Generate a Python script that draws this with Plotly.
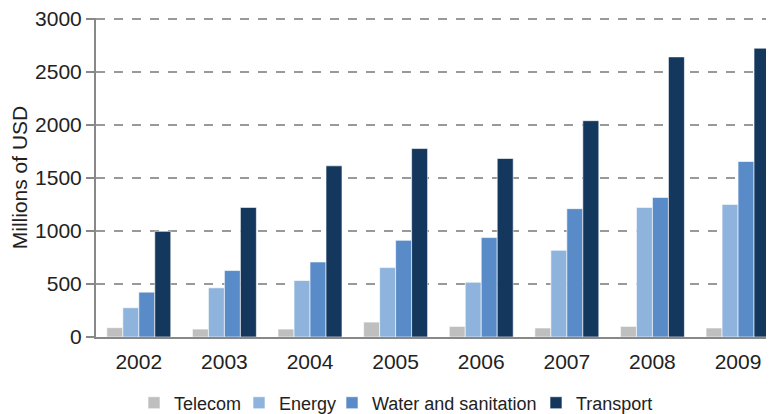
import plotly.graph_objects as go

years = ["2002", "2003", "2004", "2005", "2006", "2007", "2008", "2009"]
telecom = [88, 75, 75, 141, 100, 85, 100, 85]
energy = [276, 464, 533, 655, 517, 818, 1223, 1251]
water = [423, 627, 708, 912, 938, 1211, 1317, 1656]
transport = [997, 1223, 1615, 1778, 1684, 2041, 2643, 2725]
y_ticks = [0, 500, 1000, 1500, 2000, 2500, 3000]

series_names = ["Telecom", "Energy", "Water and sanitation", "Transport"]
series_values = [telecom, energy, water, transport]
series_colors = ["#bfbfbf", "#8eb4de", "#598bc8", "#14375d"]
legend_ids = ["legend", "legend2", "legend3", "legend4"]
legend_x = [126, 231, 324, 528]  # left edge of each legend entry (px)

# the page body has an 8px margin, so the figure is sized to fill the rest
W, H = 766, 406

fig = go.Figure()
for name, vals, color, lid in zip(series_names, series_values, series_colors, legend_ids):
    fig.add_trace(go.Bar(
        x=years, y=vals, name=name, legend=lid,
        marker=dict(color=color, line=dict(color="rgba(255,255,255,0.6)", width=1)),
    ))

font_family = "Liberation Sans, Arial, Helvetica, sans-serif"
layout_legends = {}
for lid, lx in zip(legend_ids, legend_x):
    layout_legends[lid] = dict(
        orientation="h", xref="container", yref="container",
        x=lx / W, xanchor="left", y=0.027, yanchor="middle",
        font=dict(size=18, color="#222222"),
        bgcolor="rgba(0,0,0,0)",
    )

fig.update_layout(
    width=W, height=H,
    margin=dict(l=88, r=0, t=10, b=77, autoexpand=False),
    paper_bgcolor="white", plot_bgcolor="white",
    barmode="group", bargap=0.253, bargroupgap=0,
    font=dict(family=font_family, color="#222222", size=21),
    showlegend=True,
    xaxis=dict(
        type="category", range=[-0.5, 7.42], automargin=False,
        showline=True, linecolor="#888888", linewidth=2,
        ticks="", showgrid=False, ticklabelstandoff=5,
        tickfont=dict(size=21),
    ),
    yaxis=dict(
        range=[0, 3010], tickvals=y_ticks,
        automargin=False, ticklabeloverflow="allow",
        showline=True, linecolor="#888888", linewidth=2,
        ticks="outside", ticklen=8, tickcolor="#888888", tickwidth=1.5,
        showgrid=True, gridcolor="#999999", griddash="dash", gridwidth=1.5,
        zeroline=False,
        title=dict(text="Millions of USD", font=dict(size=21), standoff=8),
        tickfont=dict(size=21),
    ),
    **layout_legends,
)

fig.write_html("out.html")
